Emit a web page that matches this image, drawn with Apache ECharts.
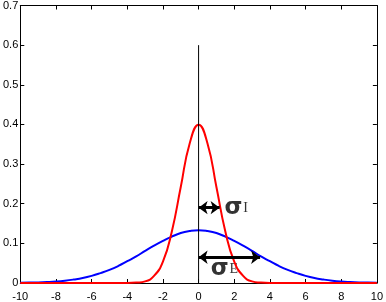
<!DOCTYPE html>
<html><head><meta charset="utf-8">
<script src="https://cdn.jsdelivr.net/npm/echarts@6/dist/echarts.min.js"></script>
<style>html,body{margin:0;padding:0;background:#fff}#c{width:386px;height:302px}</style>
</head><body><div id="c"></div>
<script>
var xs = [-10,-9.5,-9,-8.5,-8,-7.5,-7,-6.5,-6,-5.5,-5,-4.5,-4,-3.5,-3,-2.5,-2,-1.5,-1,-0.5,0,0.5,1,1.5,2,2.5,3,3.5,4,4.5,5,5.5,6,6.5,7,7.5,8,8.5,9,9.5,10];
var redVals = [0,0,0,0,0,0,0,0,0,0,0,0,0,0.001,0.004,0.018,0.054,0.13,0.242,0.352,0.399,0.352,0.242,0.13,0.054,0.018,0.004,0.001,0,0,0,0,0,0,0,0,0,0,0,0,0];
var blueVals = [0.0005,0.001,0.0015,0.0024,0.0037,0.0058,0.0088,0.0126,0.018,0.025,0.033,0.043,0.055,0.067,0.081,0.094,0.106,0.117,0.126,0.131,0.133,0.131,0.126,0.117,0.106,0.094,0.081,0.067,0.055,0.043,0.033,0.025,0.018,0.0126,0.0088,0.0058,0.0037,0.0024,0.0015,0.001,0.0005];
var centerLine = [[0,0],[0,0.6]];
var arrowI = [[0,0.19],[1.18,0.19]];
var arrowE = [[0,0.065],[3.45,0.065]];
var labelI = [1.45,0.19];
var labelE = [0.68,0.037];

function zip(a,b){return a.map(function(v,i){return [v,b[i]];});}
var chart = echarts.init(document.getElementById('c'));
var font = 'Arial, "Liberation Sans", sans-serif';
var axBase = {
  type:'value', axisLine:{show:true,onZero:false,lineStyle:{color:'#000',width:1}},
  axisTick:{show:true,inside:true,length:4,lineStyle:{color:'#000'}},
  splitLine:{show:false}
};
function arrowLine(pts){
  return {type:'line', data:[], silent:true, markLine:{silent:true, symbol:['arrow','arrow'], symbolSize:[10,9],
    lineStyle:{color:'#000',width:3,type:'solid'}, label:{show:false}, animation:false,
    data:[[{coord:pts[0]},{coord:pts[1]}]]}};
}
function sigma(pt, sub){
  return {type:'scatter', data:[pt], symbolSize:0, silent:true,
    label:{show:true, position:'right', distance:0, formatter:'{a|σ}{b|'+sub+'}',
      rich:{a:{fontFamily:'"DejaVu Sans", sans-serif',fontSize:23,fontWeight:'bold',color:'#000',verticalAlign:'bottom',lineHeight:24},
            b:{fontFamily:'"Liberation Serif", serif',fontSize:14,color:'#000',verticalAlign:'bottom',lineHeight:20,padding:[0,0,4,1]}}}};
}
chart.setOption({
  animation:false,
  grid:{left:19,right:5,top:5,bottom:12,containLabel:false},
  xAxis:[
    Object.assign({}, axBase, {min:-10,max:10,interval:2,position:'bottom',
      axisLabel:{color:'#000',fontSize:11,fontFamily:font,margin:8,showMinLabel:true,showMaxLabel:true}}),
    Object.assign({}, axBase, {min:-10,max:10,interval:2,position:'top',axisLabel:{show:false}})
  ],
  yAxis:[
    Object.assign({}, axBase, {min:0,max:0.7,interval:0.1,position:'left',
      axisLabel:{color:'#000',fontSize:11,fontFamily:font,margin:2,formatter:function(v){return v===0?'0':(Math.round(v*10)/10).toString();}}}),
    Object.assign({}, axBase, {min:0,max:0.7,interval:0.1,position:'right',axisLabel:{show:false}})
  ],
  series:[
    {type:'line', data:zip(xs,blueVals), smooth:true, symbol:'none', lineStyle:{color:'#0000ff',width:2}},
    {type:'line', data:zip(xs,redVals), smooth:true, symbol:'none', lineStyle:{color:'#ff0000',width:2}},
    {type:'line', data:centerLine, symbol:'none', lineStyle:{color:'#000',width:1}},
    arrowLine(arrowI),
    arrowLine(arrowE),
    sigma(labelI,'I'),
    sigma(labelE,'E')
  ]
});
</script></body></html>
